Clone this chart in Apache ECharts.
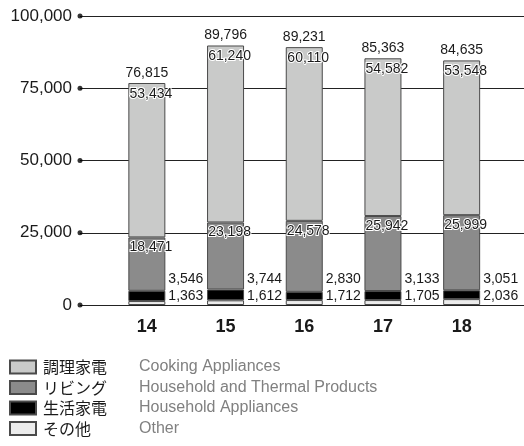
<!DOCTYPE html>
<html>
<head>
<meta charset="utf-8">
<script src="https://cdn.jsdelivr.net/npm/echarts@6/dist/echarts.min.js"></script>
<style>html,body{margin:0;padding:0;background:#fff;}#c{width:524px;height:446px;}</style>
</head>
<body>
<div id="c"></div>
<script>
var years = ['14', '15', '16', '17', '18'];
var cooking = [53434, 61240, 60110, 54582, 53548];
var thermal = [18471, 23198, 24578, 25942, 25999];
var household = [3546, 3744, 2830, 3133, 3051];
var other = [1363, 1612, 1712, 1705, 2036];
var totals = [76815, 89796, 89231, 85363, 84635];
var yTicks = [0, 25000, 50000, 75000, 100000];
var legendJP = ['調理家電', 'リビング', '生活家電', 'その他'];
var legendEN = ['Cooking Appliances', 'Household and Thermal Products', 'Household Appliances', 'Other'];

function fmt(v) { return v.toLocaleString('en-US'); }

var FONT = '"Liberation Sans", Arial, sans-serif';
var chart = echarts.init(document.getElementById('c'), null, {renderer: 'canvas'});
var border = '#4a4a4a';
var haloLabel = {
  show: true, position: 'insideTop', distance: 3, offset: [4, 0],
  fontFamily: FONT, fontSize: 14, color: '#1a1a1a',
  textBorderColor: '#fff', textBorderWidth: 2
};
var keys = ['Cooking', 'Thermal', 'Household', 'Other'];

var option = {
  animation: false,
  backgroundColor: '#fff',
  textStyle: {fontFamily: FONT},
  grid: [
    {left: 80, right: 0, top: 16, bottom: 141},
    {left: 107.5, right: 23, top: 16, bottom: 141}
  ],
  xAxis: [
    {gridIndex: 0, type: 'value', min: 0, max: 1, show: false},
    {gridIndex: 1, type: 'category', data: years,
     axisLine: {show: false}, axisTick: {show: false},
     axisLabel: {margin: 13, fontFamily: FONT, fontSize: 18, fontWeight: 'bold', color: '#1a1a1a'}}
  ],
  yAxis: [
    {gridIndex: 0, type: 'value', min: 0, max: 100000, interval: 25000,
     axisLine: {show: false}, axisTick: {show: false},
     axisLabel: {margin: 8, fontFamily: FONT, fontSize: 17, color: '#1a1a1a',
       formatter: function (v) { return fmt(v); }},
     splitLine: {show: true, lineStyle: {color: '#222', width: 1}}},
    {gridIndex: 1, type: 'value', min: 0, max: 100000, interval: 25000, show: false}
  ],
  legend: {
    orient: 'vertical', left: 9, top: 359, height: 120, width: 510, padding: 0,
    icon: 'rect',
    itemWidth: 26, itemHeight: 13, itemGap: 4.5,
    data: keys,
    formatter: function (name) {
      var i = keys.indexOf(name);
      return '{jp|' + legendJP[i] + '}{en|' + legendEN[i] + '}';
    },
    textStyle: {
      padding: [0, 0, 0, 2],
      rich: {
        jp: {fontFamily: '"Noto Sans CJK JP", sans-serif', fontSize: 16, color: '#1a1a1a', width: 96, lineHeight: 17},
        en: {fontFamily: FONT, fontSize: 16, color: '#808080', lineHeight: 17}
      }
    }
  },
  series: [
    {
      type: 'scatter', xAxisIndex: 0, yAxisIndex: 0,
      data: yTicks.map(function (t) { return [0, t]; }),
      symbol: 'circle', symbolSize: 5, clip: false, z: 5,
      itemStyle: {color: '#000'}, silent: true
    },
    {
      name: 'Other', type: 'bar', stack: 'a', xAxisIndex: 1, yAxisIndex: 1,
      barWidth: 37, data: other,
      itemStyle: {color: '#ececec', borderColor: border, borderWidth: 1},
      label: {
        show: true, position: ['100%', '100%'], align: 'left', verticalAlign: 'bottom',
        offset: [3, 0], fontFamily: FONT, fontSize: 14, color: '#1a1a1a', lineHeight: 17,
        formatter: function (p) { return fmt(household[p.dataIndex]) + '\n' + fmt(other[p.dataIndex]); }
      }
    },
    {
      name: 'Household', type: 'bar', stack: 'a', xAxisIndex: 1, yAxisIndex: 1,
      barWidth: 37, data: household,
      itemStyle: {color: '#000', borderColor: border, borderWidth: 1}
    },
    {
      name: 'Thermal', type: 'bar', stack: 'a', xAxisIndex: 1, yAxisIndex: 1,
      barWidth: 37, data: thermal,
      itemStyle: {color: '#8b8b8b', borderColor: border, borderWidth: 1},
      label: Object.assign({}, haloLabel, {formatter: function (p) { return fmt(p.value); }})
    },
    {
      name: 'Cooking', type: 'bar', stack: 'a', xAxisIndex: 1, yAxisIndex: 1,
      barWidth: 37, data: cooking,
      itemStyle: {color: '#c9cac9', borderColor: border, borderWidth: 1},
      label: Object.assign({}, haloLabel, {distance: 4, formatter: function (p) { return fmt(p.value); }})
    },
    {
      name: 'Total', type: 'bar', stack: 'a', xAxisIndex: 1, yAxisIndex: 1,
      barWidth: 37, data: years.map(function () { return 0; }),
      itemStyle: {color: 'rgba(0,0,0,0)', borderWidth: 0},
      label: {
        show: true, position: 'top', distance: 3,
        fontFamily: FONT, fontSize: 14, color: '#1a1a1a',
        formatter: function (p) { return fmt(totals[p.dataIndex]); }
      }
    }
  ]
};
chart.setOption(option);
</script>
</body>
</html>
